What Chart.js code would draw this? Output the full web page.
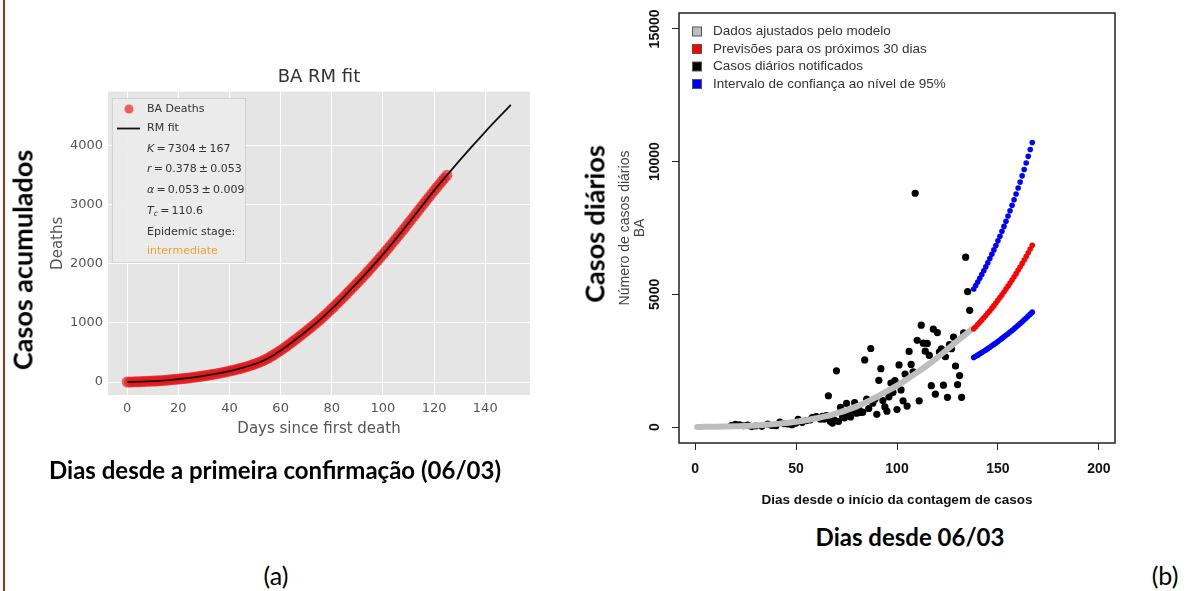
<!DOCTYPE html>
<html>
<head>
<meta charset="utf-8">
<script src="https://cdn.jsdelivr.net/npm/chart.js@4.4.1/dist/chart.umd.min.js"></script>
<style>
html, body { margin: 0; padding: 0; background: #fff; }
body { width: 1186px; height: 591px; position: relative; overflow: hidden; }
#edge { position: absolute; left: 3px; top: 0; width: 2px; height: 591px; background: #a3340f; }
#wrapA { position: absolute; left: 0; top: 0; width: 560px; height: 460px; }
#wrapB { position: absolute; left: 560px; top: 0; width: 626px; height: 520px; }
.lbl { position: absolute; white-space: nowrap; color: #000; font-family: Lato, "Open Sans", sans-serif; line-height: 1; }
.rot { transform: translate(-50%, -50%) rotate(-90deg); }
.ctr { transform: translate(-50%, -50%); }
</style>
</head>
<body>
<div id="edge"></div>
<div id="wrapA"><canvas id="chartA" width="560" height="460"></canvas></div>
<div id="wrapB"><canvas id="chartB" width="626" height="520"></canvas></div>

<div class="lbl rot" style="left:22px; top:260px; font-size:27px; font-weight:700;">Casos acumulados</div>
<div class="lbl ctr" style="left:275px; top:470px; font-size:24px; font-weight:700;">Dias desde a primeira confirmação (06/03)</div>
<div class="lbl ctr" style="left:276px; top:575px; font-size:25px;">(a)</div>
<div class="lbl rot" style="left:594px; top:224px; font-size:27px; font-weight:700;">Casos diários</div>
<div class="lbl ctr" style="left:910px; top:537px; font-size:24px; font-weight:700;">Dias desde 06/03</div>
<div class="lbl ctr" style="left:1165px; top:575px; font-size:25px;">(b)</div>

<script>
// ---------- Panel (a): cumulative deaths in BA with the RM fit ----------
const deathTicksX = [0, 20, 40, 60, 80, 100, 120, 140];
const deathTicksY = [0, 1000, 2000, 3000, 4000];

// cumulative deaths, one value per day starting at day 0
const cumulativeDeaths = [
  0, 1, 2, 3, 4, 6, 7, 9, 11, 13,
  15, 17, 20, 23, 26, 29, 33, 37, 41, 45,
  49, 53, 58, 63, 68, 73, 79, 85, 91, 97,
  104, 111, 118, 125, 133, 141, 149, 157, 166, 175,
  185, 195, 205, 216, 227, 238, 250, 263, 276, 290,
  305, 322, 340, 358, 378, 400, 426, 453, 480, 507,
  535, 565, 596, 628, 660, 692, 725, 758, 792, 826,
  860, 895, 930, 966, 1002, 1040, 1078, 1117, 1157, 1198,
  1240, 1282, 1325, 1368, 1411, 1455, 1500, 1545, 1590, 1635,
  1680, 1726, 1772, 1819, 1866, 1914, 1962, 2011, 2060, 2110,
  2160, 2211, 2262, 2314, 2366, 2419, 2472, 2525, 2579, 2634,
  2689, 2744, 2799, 2854, 2909, 2964, 3019, 3074, 3129, 3184,
  3239, 3292, 3344, 3396, 3448, 3498
];

// Richards model curve, extended past the last observation
const fitDays = [0, 5, 10, 15, 20, 25, 30, 35, 40, 45, 50, 55, 60, 65, 70, 75,
  80, 85, 90, 95, 100, 105, 110, 115, 120, 125, 130, 135, 140, 145, 150];
const fitDeaths = [0, 6, 15, 29, 49, 73, 104, 141, 185, 238, 305, 398, 533, 690, 858, 1038,
  1238, 1455, 1680, 1914, 2160, 2419, 2689, 2964, 3239, 3498, 3750, 3995, 4235, 4465, 4690];

// ---------- Panel (b): daily cases in BA ----------
const caseTicksX = [0, 50, 100, 150, 200];
const caseTicksY = [0, 5000, 10000, 15000];

const modelDays = [1, 5, 10, 15, 20, 25, 30, 35, 40, 45, 50, 55, 60, 65, 70, 75,
  80, 85, 90, 95, 100, 105, 110, 115, 120, 125, 130, 135, 137];
const modelCases = [5, 8, 12, 20, 30, 42, 60, 85, 115, 150, 200, 260, 330, 410, 520, 640,
  780, 950, 1140, 1350, 1560, 1800, 2060, 2330, 2620, 2930, 3250, 3560, 3680];

// 30-day projection and its 95% band, one value per day from day 138
const forecastFirstDay = 138;
const forecastCases = [3700, 3780, 3860, 3945, 4030, 4115, 4205, 4295, 4385, 4480,
  4575, 4675, 4775, 4880, 4985, 5090, 5200, 5310, 5425, 5540,
  5660, 5780, 5905, 6030, 6160, 6290, 6425, 6565, 6705, 6850];
const upperBound = [5200, 5330, 5465, 5605, 5745, 5890, 6040, 6190, 6350, 6510,
  6675, 6840, 7015, 7190, 7375, 7560, 7750, 7950, 8150, 8355,
  8565, 8780, 9005, 9230, 9465, 9705, 9950, 10200, 10460, 10720];
const lowerBound = [2620, 2665, 2710, 2760, 2805, 2855, 2905, 2955, 3010, 3060,
  3115, 3170, 3225, 3280, 3340, 3400, 3455, 3515, 3580, 3640,
  3705, 3770, 3835, 3900, 3970, 4040, 4110, 4180, 4255, 4330];

const reportedDays = [18, 20, 22, 24, 26, 28, 30, 33, 36, 38, 40, 42, 44, 46, 48, 50,
  51, 53, 55, 57, 58, 60, 62, 63, 64, 65, 66, 67, 68, 69, 70, 71, 72, 73, 74, 75,
  76, 77, 78, 79, 80, 81, 82, 83, 84, 85, 86, 87, 88, 89, 90, 91, 92, 93, 94, 95,
  96, 97, 98, 99, 100, 101, 102, 103, 104, 105, 106, 107, 108, 109, 110, 111, 112,
  113, 114, 115, 116, 117, 118, 119, 120, 121, 122, 123, 124, 125, 126, 127, 128,
  129, 130, 131, 132, 133, 134, 135, 136];
const reportedCases = [60, 100, 80, 50, 70, 20, 40, 30, 110, 60, 50, 190, 130, 120, 90, 150,
  290, 180, 240, 270, 360, 390, 300, 400, 300, 430, 1180, 210, 150, 260, 2120, 210, 740, 420, 350, 890,
  440, 380, 630, 920, 520, 700, 550, 560, 2530, 1050, 700, 2960, 900, 1050, 480, 1760, 2200, 1000, 760, 600,
  1140, 1660, 1300, 1750, 660, 2340, 1400, 990, 2000, 790, 2850, 2360, 2080, 8810, 3270, 990, 3840,
  3160, 2860, 3150, 2700, 1560, 3690, 1240, 3560, 2830, 2950, 1580, 2650, 1120, 3110, 2950, 3390,
  2300, 1600, 1940, 1120, 3550, 6400, 5100, 4400];

const legendB = [
  { text: 'Dados ajustados pelo modelo', fill: '#bebebe' },
  { text: 'Previsões para os próximos 30 dias', fill: '#ff0000' },
  { text: 'Casos diários notificados', fill: '#000000' },
  { text: 'Intervalo de confiança ao nível de 95%', fill: '#0000ff' }
];

// ---------- helpers ----------
const pairs = (xs, ys) => ys.map((y, i) => ({ x: xs[i], y }));
const daily = (first, ys) => ys.map((y, i) => ({ x: first + i, y }));
const fixedTicks = list => scale => { scale.ticks = list.map(v => ({ value: v })); };
const plainNumber = v => String(v);

function drawRuns(ctx, x, y, runs) {
  for (const r of runs) {
    ctx.font = r.font;
    ctx.fillText(r.text, x, y + (r.dy || 0));
    x += ctx.measureText(r.text).width;
  }
}

// ggplot-like grey panel behind the grid
const greyPanel = {
  id: 'greyPanel',
  beforeDraw(chart) {
    const { ctx, chartArea: a } = chart;
    ctx.save();
    ctx.fillStyle = '#e5e5e5';
    ctx.fillRect(a.left, a.top, a.right - a.left, a.bottom - a.top);
    ctx.restore();
  }
};

// legend box with the fitted parameters
const fitLegend = {
  id: 'fitLegend',
  afterDatasetsDraw(chart) {
    const ctx = chart.ctx;
    const fs = 11;
    const reg = fs + 'px "DejaVu Sans"';
    const ita = 'italic ' + fs + 'px "DejaVu Sans"';
    const sub = 'italic ' + (fs * 0.7) + 'px "DejaVu Sans"';
    const th = '\u2009';
    ctx.save();
    ctx.fillStyle = 'rgba(236,236,236,0.92)';
    ctx.strokeStyle = 'rgba(205,205,205,0.8)';
    ctx.lineWidth = 1;
    ctx.fillRect(112, 98, 133, 164);
    ctx.strokeRect(112.5, 98.5, 133, 164);

    ctx.fillStyle = 'rgba(238,60,60,0.8)';
    ctx.beginPath(); ctx.arc(129, 109, 4.5, 0, Math.PI * 2); ctx.fill();
    ctx.strokeStyle = '#111'; ctx.lineWidth = 1.8;
    ctx.beginPath(); ctx.moveTo(117, 128.5); ctx.lineTo(140, 128.5); ctx.stroke();

    ctx.fillStyle = '#333';
    ctx.textBaseline = 'middle';
    const tx = 147;
    drawRuns(ctx, tx, 109, [{ text: 'BA Deaths', font: reg }]);
    drawRuns(ctx, tx, 128.5, [{ text: 'RM fit', font: reg }]);
    drawRuns(ctx, tx, 149, [{ text: 'K', font: ita }, { text: th + '=' + th + '7304' + th + '±' + th + '167', font: reg }]);
    drawRuns(ctx, tx, 169.5, [{ text: 'r', font: ita }, { text: th + '=' + th + '0.378' + th + '±' + th + '0.053', font: reg }]);
    drawRuns(ctx, tx, 190, [{ text: 'α', font: ita }, { text: th + '=' + th + '0.053' + th + '±' + th + '0.009', font: reg }]);
    drawRuns(ctx, tx, 211, [{ text: 'T', font: ita }, { text: 'c', font: sub, dy: 3 }, { text: th + '=' + th + '110.6', font: reg }]);
    drawRuns(ctx, tx, 232, [{ text: 'Epidemic stage:', font: reg }]);
    ctx.fillStyle = '#f0a030';
    drawRuns(ctx, tx, 251.5, [{ text: 'intermediate', font: reg }]);
    ctx.restore();
  }
};

// box around the plotting region and the colour key
const boxAndKey = {
  id: 'boxAndKey',
  afterDraw(chart) {
    const { ctx, chartArea: a } = chart;
    ctx.save();
    ctx.strokeStyle = '#222';
    ctx.lineWidth = 1.5;
    ctx.strokeRect(a.left, a.top, a.right - a.left, a.bottom - a.top);
    ctx.font = '13.5px "Liberation Sans"';
    ctx.textBaseline = 'middle';
    const rows = [31.5, 49, 66.5, 84];
    legendB.forEach((item, i) => {
      const y = rows[i];
      ctx.fillStyle = item.fill;
      ctx.fillRect(132.5, y - 4.5, 9, 9);
      ctx.strokeStyle = '#555';
      ctx.lineWidth = 1;
      ctx.strokeRect(132.5, y - 4.5, 9, 9);
      ctx.fillStyle = '#333';
      ctx.fillText(item.text, 153, y);
    });
    ctx.restore();
  }
};

// ---------- chart (a) ----------
new Chart(document.getElementById('chartA'), {
  type: 'scatter',
  data: {
    datasets: [
      {
        label: 'RM fit',
        data: pairs(fitDays, fitDeaths),
        showLine: true,
        borderColor: '#111',
        borderWidth: 1.8,
        pointRadius: 0,
        cubicInterpolationMode: 'monotone',
        order: 0
      },
      {
        label: 'BA Deaths',
        data: daily(0, cumulativeDeaths),
        pointRadius: 5.5,
        pointBorderWidth: 0,
        backgroundColor: 'rgba(228,22,22,0.65)',
        order: 1
      }
    ]
  },
  options: {
    responsive: false,
    animation: false,
    layout: { padding: { left: 0, right: 30, top: 0, bottom: 0 } },
    plugins: {
      legend: { display: false },
      tooltip: { enabled: false },
      title: {
        display: true,
        text: 'BA RM fit',
        fullSize: false,
        color: '#333',
        font: { family: 'DejaVu Sans', size: 18, weight: 'normal' },
        padding: { top: 67, bottom: 3 }
      }
    },
    scales: {
      x: {
        type: 'linear',
        min: -7.5,
        max: 157.5,
        afterBuildTicks: fixedTicks(deathTicksX),
        afterFit: s => { s.height = 65; },
        grid: { color: '#ffffff', lineWidth: 1, drawTicks: false },
        border: { display: false },
        ticks: { color: '#555', font: { family: 'DejaVu Sans', size: 13 }, padding: 6, callback: plainNumber },
        title: {
          display: true,
          text: 'Days since first death',
          color: '#555',
          font: { family: 'DejaVu Sans', size: 15 },
          padding: { top: 0, bottom: 22 }
        }
      },
      y: {
        type: 'linear',
        min: -220,
        max: 4915,
        afterBuildTicks: fixedTicks(deathTicksY),
        afterFit: s => { s.width = 108; },
        grid: { color: '#ffffff', lineWidth: 1, drawTicks: false },
        border: { display: false },
        ticks: { color: '#555', font: { family: 'DejaVu Sans', size: 13 }, padding: 5, callback: plainNumber },
        title: {
          display: true,
          text: 'Deaths',
          color: '#555',
          font: { family: 'DejaVu Sans', size: 15 },
          padding: { top: 49, bottom: 0 }
        }
      }
    }
  },
  plugins: [greyPanel, fitLegend]
});

// ---------- chart (b) ----------
new Chart(document.getElementById('chartB'), {
  type: 'scatter',
  data: {
    datasets: [
      {
        label: 'Casos diários notificados',
        data: pairs(reportedDays, reportedCases),
        pointRadius: 3.6,
        pointBorderWidth: 0,
        backgroundColor: '#000',
        order: 3
      },
      {
        label: 'Dados ajustados pelo modelo',
        data: pairs(modelDays, modelCases),
        showLine: true,
        borderColor: '#bebebe',
        borderWidth: 6,
        borderCapStyle: 'round',
        pointRadius: 0,
        cubicInterpolationMode: 'monotone',
        order: 2
      },
      {
        label: 'Previsões para os próximos 30 dias',
        data: daily(forecastFirstDay, forecastCases),
        pointRadius: 2.8,
        pointBorderWidth: 0,
        backgroundColor: '#ff0000',
        order: 1
      },
      {
        label: 'Intervalo de confiança (superior)',
        data: daily(forecastFirstDay, upperBound),
        pointRadius: 2.8,
        pointBorderWidth: 0,
        backgroundColor: '#0000ff',
        order: 1
      },
      {
        label: 'Intervalo de confiança (inferior)',
        data: daily(forecastFirstDay, lowerBound),
        pointRadius: 2.8,
        pointBorderWidth: 0,
        backgroundColor: '#0000ff',
        order: 1
      }
    ]
  },
  options: {
    responsive: false,
    animation: false,
    layout: { padding: { left: 0, right: 71, top: 13, bottom: 0 } },
    plugins: { legend: { display: false }, tooltip: { enabled: false } },
    scales: {
      x: {
        type: 'linear',
        min: -8,
        max: 208,
        afterBuildTicks: fixedTicks(caseTicksX),
        afterFit: s => { s.height = 77; },
        grid: { drawOnChartArea: false, drawTicks: true, tickLength: 7, color: '#222', lineWidth: 1 },
        border: { display: false },
        ticks: { color: '#111', font: { family: 'Liberation Sans', size: 14, weight: 'bold' }, padding: 11, callback: plainNumber },
        title: {
          display: true,
          text: 'Dias desde o início da contagem de casos',
          color: '#111',
          font: { family: 'Liberation Sans', size: 13.5, weight: 'bold' },
          padding: { top: 0, bottom: 12 }
        }
      },
      y: {
        type: 'linear',
        min: -600,
        max: 15600,
        afterBuildTicks: fixedTicks(caseTicksY),
        afterFit: s => { s.width = 119; },
        grid: { drawOnChartArea: false, drawTicks: true, tickLength: 7, color: '#222', lineWidth: 1 },
        border: { display: false },
        ticks: {
          color: '#111',
          font: { family: 'Liberation Sans', size: 14, weight: 'bold' },
          minRotation: 90,
          maxRotation: 90,
          crossAlign: 'center',
          padding: -3,
          callback: plainNumber
        },
        title: {
          display: true,
          text: ['Número de casos diários', 'BA'],
          color: '#444',
          font: { family: 'Liberation Sans', size: 14, lineHeight: 1.1 },
          padding: { top: 57, bottom: 0 }
        }
      }
    }
  },
  plugins: [boxAndKey]
});
</script>
</body>
</html>
